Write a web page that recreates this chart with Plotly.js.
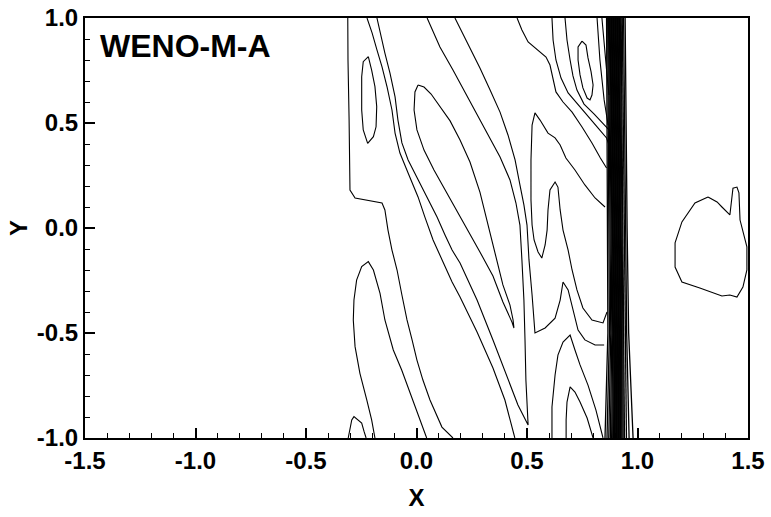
<!DOCTYPE html>
<html>
<head>
<meta charset="utf-8">
<script src="https://cdn.plot.ly/plotly-3.0.1.min.js"></script>
<style>html,body{margin:0;padding:0;background:#fff;}#chart{width:771px;height:517px;}</style>
</head>
<body>
<div id="chart"></div>
<script>
// ---- Contour lines (data units) ----
const lineA_x = [-0.311,-0.310,-0.305,-0.303,-0.301,-0.278,-0.233,-0.156,-0.143,-0.129,-0.111,-0.088,-0.066,-0.043,-0.020,0.002,0.029,0.061,0.115,0.165];
const lineA_y = [1.0,0.8,0.514,0.276,0.181,0.143,0.133,0.119,0.086,-0.010,-0.105,-0.2,-0.319,-0.438,-0.533,-0.629,-0.724,-0.819,-0.948,-1.0];

const ellipse_x = [-0.218,-0.203,-0.188,-0.180,-0.183,-0.195,-0.221,-0.241,-0.248,-0.248,-0.241,-0.218];
const ellipse_y = [0.816,0.752,0.673,0.578,0.482,0.435,0.403,0.467,0.562,0.720,0.792,0.816];

const lineB_x = [-0.224,-0.201,-0.179,-0.156,-0.133,-0.111,-0.097,-0.075,-0.038,0.007,0.038,0.075,0.120,0.161,0.197,0.274,0.346,0.400,0.445];
const lineB_y = [1.0,0.929,0.848,0.767,0.671,0.562,0.452,0.357,0.262,0.148,0.052,-0.057,-0.162,-0.257,-0.329,-0.495,-0.667,-0.819,-1.0];

// line C runs down to the V tip near (0.5,-0.94) and returns up to the top
const lineC_x = [-0.179,-0.165,-0.143,-0.120,-0.097,-0.084,-0.066,-0.038,0.002,0.048,0.093,0.129,0.161,0.197,0.274,0.346,0.410,0.459,0.505,0.495,0.491,0.486,0.477,0.468,0.450,0.423,0.378,0.319,0.256,0.197,0.165,0.106,0.048];
const lineC_y = [1.0,0.929,0.833,0.738,0.624,0.514,0.405,0.324,0.243,0.148,0.052,-0.033,-0.105,-0.167,-0.343,-0.533,-0.714,-0.843,-0.938,-0.724,-0.533,-0.343,-0.152,0.014,0.119,0.229,0.338,0.452,0.576,0.695,0.752,0.862,1.0];

const bigLoop_x = [0.007,0.034,0.066,0.106,0.152,0.197,0.242,0.287,0.324,0.360,0.391,0.423,0.437,0.441,0.432,0.391,0.346,0.287,0.219,0.179,0.133,0.079,0.034,0.002,-0.011,-0.007,0.007];
const bigLoop_y = [0.681,0.671,0.638,0.581,0.510,0.419,0.314,0.171,0.014,-0.129,-0.271,-0.367,-0.438,-0.476,-0.448,-0.352,-0.229,-0.114,0.014,0.095,0.181,0.276,0.371,0.467,0.562,0.648,0.681];

const arch_x = [-0.188,-0.203,-0.225,-0.256,-0.278,-0.286,-0.283,-0.271,-0.248,-0.218,-0.195,-0.165,-0.143,-0.105,-0.067,-0.022,0.016,0.046];
const arch_y = [-1.0,-0.914,-0.819,-0.692,-0.565,-0.438,-0.343,-0.248,-0.184,-0.160,-0.2,-0.311,-0.438,-0.581,-0.676,-0.803,-0.914,-1.0];

const hump_x = [-0.309,-0.304,-0.293,-0.283,-0.263,-0.248,-0.237,-0.228];
const hump_y = [-1.0,-0.967,-0.914,-0.898,-0.914,-0.929,-0.970,-1.0];

const cornerLine_x = [0.174,0.197,0.242,0.287,0.333,0.378,0.414,0.446,0.468,0.486,0.500,0.509,0.523,0.532,0.536,0.582,0.627,0.650,0.663,0.686,0.708,0.731,0.762,0.808,0.849];
const cornerLine_y = [1.0,0.952,0.862,0.762,0.657,0.552,0.443,0.324,0.205,0.110,0.014,-0.152,-0.319,-0.438,-0.5,-0.476,-0.429,-0.343,-0.257,-0.295,-0.390,-0.486,-0.533,-0.557,-0.557];

const peakLine_x = [0.853,0.808,0.762,0.717,0.676,0.650,0.627,0.595,0.559,0.536,0.523,0.518,0.518,0.523,0.532,0.550,0.567,0.582,0.591,0.595,0.604,0.627,0.640,0.650,0.663,0.686,0.704,0.726,0.753,0.794,0.844,0.862];
const peakLine_y = [0.1,0.143,0.205,0.276,0.333,0.395,0.429,0.452,0.514,0.548,0.490,0.324,0.133,0.014,-0.057,-0.114,-0.143,-0.081,-0.010,0.086,0.181,0.219,0.195,0.086,-0.010,-0.105,-0.2,-0.295,-0.381,-0.438,-0.452,-0.4];

const wavyTop_x = [0.455,0.477,0.505,0.550,0.586,0.604,0.618,0.631,0.663,0.704,0.749,0.794,0.832,0.860];
const wavyTop_y = [1.0,0.943,0.886,0.848,0.814,0.776,0.705,0.648,0.6,0.552,0.481,0.405,0.333,0.286];

const topLine1_x = [0.613,0.618,0.631,0.654,0.686,0.731,0.776,0.822,0.860,0.871];
const topLine1_y = [1.0,0.895,0.8,0.714,0.643,0.586,0.533,0.476,0.429,0.395];

const topLine2_x = [0.672,0.681,0.695,0.708,0.726,0.758,0.803,0.844,0.871];
const topLine2_y = [1.0,0.895,0.8,0.724,0.657,0.590,0.543,0.495,0.467];

const smallLoop_x = [0.749,0.767,0.776,0.790,0.799,0.794,0.785,0.772,0.753,0.740,0.731,0.731,0.749];
const smallLoop_y = [0.890,0.871,0.810,0.743,0.681,0.633,0.610,0.619,0.667,0.729,0.8,0.862,0.890];

const topLine3_x = [0.817,0.830,0.849,0.867];
const topLine3_y = [1.0,0.8,0.610,0.490];
const topLine4_x = [0.839,0.849,0.862,0.871];
const topLine4_y = [1.0,0.871,0.729,0.633];

const lowPeak1_x = [0.613,0.613,0.627,0.640,0.663,0.695,0.717,0.740,0.776,0.812,0.844];
const lowPeak1_y = [-1.0,-0.852,-0.7,-0.605,-0.543,-0.510,-0.581,-0.652,-0.748,-0.867,-1.0];

const lowPeak2_x = [0.677,0.677,0.681,0.695,0.717,0.740,0.772,0.799];
const lowPeak2_y = [-1.0,-0.914,-0.829,-0.757,-0.781,-0.829,-0.905,-1.0];

const blob_x = [1.319,1.260,1.201,1.170,1.170,1.201,1.282,1.382,1.418,1.450,1.477,1.495,1.495,1.477,1.464,1.459,1.450,1.432,1.428,1.418,1.382,1.360,1.319];
const blob_y = [0.148,0.119,0.029,-0.071,-0.186,-0.257,-0.286,-0.324,-0.319,-0.329,-0.281,-0.2,-0.090,-0.010,0.038,0.167,0.195,0.190,0.148,0.062,0.1,0.124,0.148];

// shock band: x positions of each packed contour line at the y levels below
const bandLevels = [1.0, 0.5, 0.0, -0.5, -1.0];
const bandTop = [0.860,0.865,0.869,0.873,0.876,0.879,0.882,0.885,0.888,0.891,0.894,0.897,0.900,0.903,0.906,0.909,0.912,0.915,0.918,0.922,0.926,0.931,0.937,0.944];
const bandUp  = [0.862,0.868,0.872,0.876,0.880,0.883,0.886,0.889,0.892,0.895,0.898,0.901,0.904,0.907,0.910,0.913,0.916,0.919,0.922,0.926,0.930,0.935,0.941,0.948];
const bandMid = [0.866,0.872,0.877,0.881,0.885,0.888,0.891,0.894,0.897,0.900,0.903,0.906,0.909,0.912,0.915,0.918,0.921,0.924,0.927,0.931,0.935,0.940,0.946,0.953];
const bandLow = [0.866,0.873,0.879,0.884,0.888,0.891,0.894,0.897,0.900,0.903,0.906,0.909,0.912,0.915,0.918,0.921,0.924,0.927,0.930,0.934,0.938,0.944,0.951,0.960];
const bandBot = [0.853,0.862,0.870,0.877,0.883,0.888,0.892,0.896,0.899,0.902,0.905,0.908,0.911,0.914,0.917,0.920,0.923,0.926,0.930,0.935,0.941,0.950,0.962,0.980];

// ticks
const xTickVals = [-1.5,-1.0,-0.5,0.0,0.5,1.0,1.5];
const xTickText = ["-1.5","-1.0","-0.5","0.0","0.5","1.0","1.5"];
const yTickVals = [-1.0,-0.5,0.0,0.5,1.0];
const yTickText = ["-1.0","-0.5","0.0","0.5","1.0"];

// ---- build traces ----
const lineStyle = {color: '#000', width: 1.1};
const curves = [
  [lineA_x, lineA_y], [ellipse_x, ellipse_y], [lineB_x, lineB_y], [lineC_x, lineC_y],
  [bigLoop_x, bigLoop_y], [arch_x, arch_y], [hump_x, hump_y], [cornerLine_x, cornerLine_y],
  [peakLine_x, peakLine_y], [wavyTop_x, wavyTop_y], [topLine1_x, topLine1_y], [topLine2_x, topLine2_y],
  [smallLoop_x, smallLoop_y], [topLine3_x, topLine3_y], [topLine4_x, topLine4_y],
  [lowPeak1_x, lowPeak1_y], [lowPeak2_x, lowPeak2_y], [blob_x, blob_y]
];
const traces = curves.map(c => ({
  type: 'scatter', mode: 'lines', x: c[0], y: c[1],
  line: lineStyle, hoverinfo: 'skip', showlegend: false
}));
for (let i = 0; i < bandTop.length; i++) {
  traces.push({
    type: 'scatter', mode: 'lines',
    x: [bandTop[i], bandUp[i], bandMid[i], bandLow[i], bandBot[i]],
    y: bandLevels,
    line: {color: '#000', width: 1.3}, hoverinfo: 'skip', showlegend: false
  });
}

const tickFont = {family: 'Liberation Sans, Arial, sans-serif', size: 24, color: '#000', weight: 'bold'};
const titleFont = {family: 'Liberation Sans, Arial, sans-serif', size: 24, color: '#000', weight: 'bold'};

const axisCommon = {
  showgrid: false, zeroline: false, showline: true, mirror: true,
  linecolor: '#000', linewidth: 2,
  ticks: 'inside', ticklen: 10, tickwidth: 2, tickcolor: '#000',
  tickmode: 'array', tickfont: tickFont,
  minor: {dtick: 0.1, ticks: 'inside', ticklen: 5, tickwidth: 1, tickcolor: '#000', showgrid: false}
};

const layout = {
  width: 771, height: 517,
  margin: {l: 85, r: 23, t: 18, b: 79},
  paper_bgcolor: '#fff', plot_bgcolor: '#fff',
  title: {
    text: 'WENO-M-A', xref: 'container', yref: 'container',
    x: 0.1297, xanchor: 'left', y: 0.912, yanchor: 'middle',
    font: {family: 'Liberation Sans, Arial, sans-serif', size: 32, color: '#000', weight: 'bold'}
  },
  xaxis: Object.assign({}, axisCommon, {
    range: [-1.5, 1.5], tickvals: xTickVals, ticktext: xTickText,
    minor: Object.assign({}, axisCommon.minor, {tick0: -1.5}),
    title: {text: 'X', font: titleFont, standoff: 16}
  }),
  yaxis: Object.assign({}, axisCommon, {
    range: [-1, 1], tickvals: yTickVals, ticktext: yTickText,
    minor: Object.assign({}, axisCommon.minor, {tick0: -1}),
    title: {text: 'Y', font: titleFont, standoff: 2}
  }),
  showlegend: false
};

Plotly.newPlot('chart', traces, layout, {displayModeBar: false, staticPlot: true});
</script>
</body>
</html>
